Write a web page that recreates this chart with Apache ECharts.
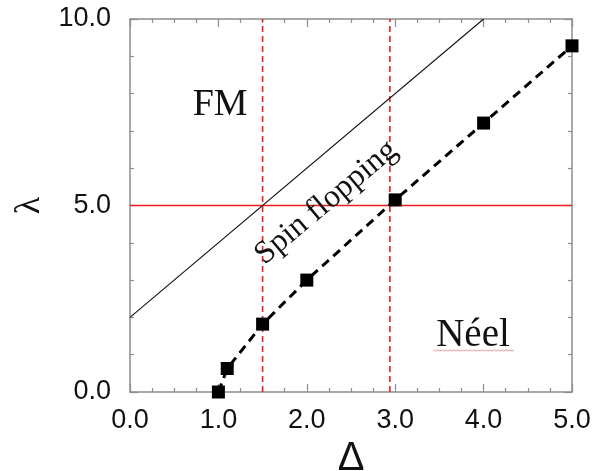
<!DOCTYPE html>
<html>
<head>
<meta charset="utf-8">
<script src="https://cdn.jsdelivr.net/npm/echarts@6/dist/echarts.min.js"></script>
<style>
  html, body { margin: 0; padding: 0; background: #fff; }
  #chart { width: 605px; height: 471px; }
</style>
</head>
<body>
<div id="chart"></div>
<script>
// Measured transition points: anisotropy Δ versus field λ
const deltaVals  = [1.0, 1.1, 1.5, 2.0, 3.0, 4.0, 5.0];
const lambdaVals = [0.0, 0.63, 1.82, 3.0, 5.15, 7.21, 9.28];

// Reference guides
const fmBoundary = [[0, 2], [4, 10]];          // λ = 2Δ + 2
const lambdaLevel = 5.0;                        // horizontal guide
const deltaMarks = [1.5, 2.94];                 // vertical dashed guides

const xTicks = [0, 1, 2, 3, 4, 5];
const yTicks = [0, 5, 10];

// Region labels: [text, Δ, λ]
const regionLabels = [
  ['FM', 1.02, 7.7],
  ['Néel', 3.88, 1.5],
  ['Spin flopping', 2.22, 5.08]
];

const axisGray = '#8c8c8c';
const red = '#ee1c1c';

function axisBase(extra) {
  return Object.assign({
    type: 'value',
    axisLine: { show: true, onZero: false, lineStyle: { color: axisGray, width: 1.5 } },
    axisTick: { show: true, inside: true, length: 8, lineStyle: { color: axisGray, width: 1.2 } },
    minorTick: { show: true, length: 4, lineStyle: { color: axisGray, width: 1.2 } },
    splitLine: { show: false },
    minorSplitLine: { show: false }
  }, extra);
}

const labelFont = { fontFamily: 'Liberation Sans', fontSize: 27, color: '#111' };

const chart = echarts.init(document.getElementById('chart'), null, { renderer: 'canvas' });

const option = {
  animation: false,
  backgroundColor: '#fff',
  grid: {
    left: 130, right: 33, top: 19, bottom: 79,
    containLabel: false, outerBoundsMode: 'none'
  },
  xAxis: [
    axisBase({
      min: xTicks[0], max: xTicks[xTicks.length - 1], interval: 1,
      minorTick: { show: true, splitNumber: 4, length: 4, lineStyle: { color: axisGray, width: 1.2 } },
      axisLabel: Object.assign({ margin: 15, formatter: v => v.toFixed(1) }, labelFont),
      name: 'Δ', nameLocation: 'middle', nameGap: 37,
      nameTextStyle: { fontFamily: 'Liberation Sans', fontSize: 40, color: '#111' }
    }),
    axisBase({
      position: 'top',
      min: xTicks[0], max: xTicks[xTicks.length - 1], interval: 1,
      minorTick: { show: true, splitNumber: 4, length: 4, lineStyle: { color: axisGray, width: 1.2 } },
      axisLabel: { show: false }
    })
  ],
  yAxis: [
    axisBase({
      min: yTicks[0], max: yTicks[yTicks.length - 1], interval: 5,
      minorTick: { show: true, splitNumber: 5, length: 4, lineStyle: { color: axisGray, width: 1.2 } },
      axisLabel: Object.assign({ margin: 19, formatter: v => v.toFixed(1) }, labelFont),
      name: 'λ', nameLocation: 'middle', nameGap: 80,
      nameTextStyle: { fontFamily: 'Liberation Serif', fontSize: 36, color: '#111' }
    }),
    axisBase({
      position: 'right',
      min: yTicks[0], max: yTicks[yTicks.length - 1], interval: 5,
      minorTick: { show: true, splitNumber: 5, length: 4, lineStyle: { color: axisGray, width: 1.2 } },
      axisLabel: { show: false }
    })
  ],
  series: [
    {
      type: 'line', name: 'level', symbol: 'none', silent: true,
      data: [[xTicks[0], lambdaLevel], [xTicks[xTicks.length - 1], lambdaLevel]],
      color: red,
      itemStyle: { color: red },
      lineStyle: { color: red, width: 1.4 }
    },
    ...deltaMarks.map(d => ({
      type: 'line', symbol: 'none', silent: true,
      data: [[d, yTicks[0]], [d, yTicks[yTicks.length - 1]]],
      color: red,
      lineStyle: { color: red, width: 1.6, type: [6, 4] }
    })),
    {
      type: 'line', name: 'FM boundary', symbol: 'none', silent: true,
      data: fmBoundary,
      lineStyle: { color: '#111', width: 1.1 }
    },
    {
      type: 'line', name: 'transition',
      data: deltaVals.map((d, i) => [d, lambdaVals[i]]),
      symbol: 'rect', symbolSize: 13,
      itemStyle: { color: '#000' },
      lineStyle: { color: '#000', width: 3, type: [9, 6] },
      clip: false, z: 5
    }
  ]
};

chart.setOption(option);

// Region annotations placed in data coordinates
const graphics = regionLabels.map(([text, dx, ly]) => {
  const p = chart.convertToPixel({ xAxisIndex: 0, yAxisIndex: 0 }, [dx, ly]);
  const isDiag = text === 'Spin flopping';
  return {
    type: 'text',
    x: p[0], y: p[1],
    rotation: isDiag ? 40 * Math.PI / 180 : 0,
    style: {
      text: text,
      fontFamily: 'Liberation Serif',
      fontSize: isDiag ? 32 : (text === 'FM' ? 38 : 39),
      fill: '#111',
      align: 'center',
      verticalAlign: 'middle'
    },
    z: 10
  };
});

// Spell-check style squiggle under the Néel label
const np = chart.convertToPixel({ xAxisIndex: 0, yAxisIndex: 0 }, [regionLabels[1][1], regionLabels[1][2]]);
const squiggle = [];
for (let x = np[0] - 39, k = 0; x <= np[0] + 41; x += 2, k++) {
  squiggle.push([x, np[1] + 14 + (k % 2 ? 1 : -0.2)]);
}
graphics.push({
  type: 'polyline',
  shape: { points: squiggle },
  style: { stroke: '#f08a8a', lineWidth: 0.9, fill: null },
  z: 10
});

chart.setOption({ graphic: graphics });
</script>
</body>
</html>
